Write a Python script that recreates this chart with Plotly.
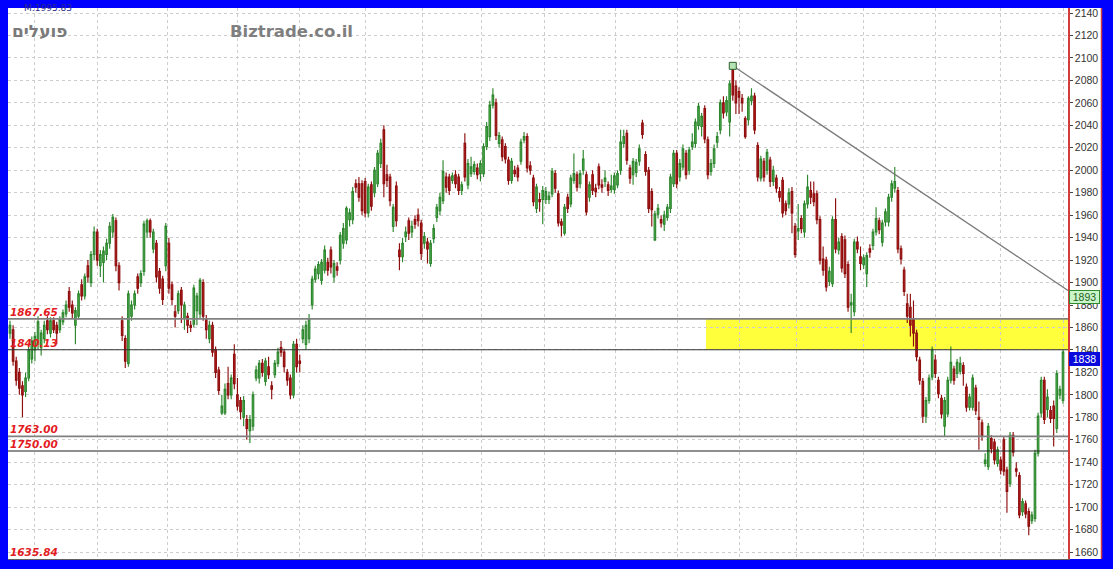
import plotly.graph_objects as go

# ---------------- data ----------------
opens = [
    1855,1858,1830,1820,1808,1803,1815,1832,1840,1845,
    1842,1850,1866,1855,1866,1862,1858,1865,1872,1892,
    1880,1862,1870,1898,1888,1915,1900,1925,1945,1915,
    1918,1925,1935,1945,1955,1915,1866,1850,1828,1870,
    1880,1905,1900,1910,1945,1955,1930,1935,1910,1903,
    1915,1935,1898,1874,1875,1893,1868,1870,1862,1863,
    1875,1872,1900,1868,1850,1862,1840,1822,1784,1784,
    1810,1800,1836,1800,1795,1780,1778,1768,1772,1815,
    1815,1828,1812,1825,1808,1818,1828,1842,1838,1820,
    1815,1800,1845,1830,1850,1845,1850,1880,
    1903,1908,1902,1911,1918,1929,1905,1914,1920,1935,
    1938,1956,1956,1988,1988,1988,1990,1962,1987,1980,
    1988,2006,2036,1996,1994,1950,1986,1929,1923,1941,
    1955,1945,1956,1960,1953,1935,1936,1917,1939,1958,
    1964,1973,1994,1994,1991,1996,1994,1982,2024,1987,
    1997,1999,2002,1997,1997,2021,2030,2058,2060,2024,
    2027,2021,2009,1991,2000,2002,2008,2027,2030,2004,
    1993,1966,1974,1974,1974,1974,1979,1997,1979,1954,
    1944,1976,1970,1991,1996,1988,2000,1996,1976,1996,
    1984,2003,1987,1990,1987,1983,1983,1987,2000,2024,
    2033,2002,1996,1998,2008,2042,2014,2000,1981,1938,
    1961,1956,1952,1958,1966,1988,2015,1994,2003,2015,
    2000,2021,2024,2040,2039,2055,2027,1999,2006,2025,
    2036,2060,2052,2043,2090,2075,2070,2064,2046,2045,
    2062,2066,2022,1993,2008,2000,2009,1990,1993,1981,
    1991,1970,1970,1981,1950,1946,1957,1945,1970,1982,
    1979,1979,1956,1921,1920,1901,1899,1956,1929,1941,
    1938,1916,1880,1874,1936,1923,1916,1908,1930,1933,
    1945,1955,1936,1954,1954,1976,1984,1982,1930,1911,
    1881,1878,1867,1855,1831,1812,1781,1795,1816,1831,
    1813,1797,1772,1783,1813,1823,1819,1821,1826,1807,
    1789,1789,1806,1780,1775,1739,1736,1761,1758,1739,
    1742,1760,1733,1721,1764,1734,1728,1696,1703,1696,
    1688,1690,1748,1784,1813,1787,1786,1790,1770,1800,1795,
]
highs = [
    1866,1862,1834,1824,1812,1820,1843,1852,1856,1870,
    1858,1866,1870,1869,1869,1865,1870,1876,1884,1896,
    1884,1878,1893,1903,1908,1920,1928,1950,1948,1929,
    1932,1939,1954,1961,1958,1918,1870,1853,1893,1884,
    1893,1908,1911,1955,1957,1957,1948,1938,1913,1906,
    1953,1940,1901,1880,1893,1896,1883,1873,1866,1898,
    1891,1904,1903,1871,1866,1865,1843,1825,1800,1810,
    1825,1818,1845,1815,1798,1799,1782,1782,1803,1826,
    1831,1832,1833,1834,1812,1831,1842,1848,1841,1823,
    1818,1848,1850,1836,1862,1866,1872,1906,
    1915,1919,1921,1933,1922,1932,1920,1918,1945,1953,
    1968,1966,1985,1992,1994,1991,1993,1988,1990,2003,
    2018,2028,2040,2005,1997,1970,1990,1935,1940,1950,
    1958,1955,1960,1966,1956,1945,1940,1938,1952,1970,
    1980,2009,1998,1997,1998,2000,1997,1990,2033,2010,
    2012,2008,2006,2009,2024,2043,2062,2073,2064,2034,
    2030,2024,2012,2011,2004,2005,2028,2034,2033,2008,
    1996,1988,1980,1986,1985,1981,2002,2000,1982,1957,
    1970,1979,1996,2015,1999,2000,2018,1999,1990,2000,
    1988,2006,1992,2000,1990,1996,1998,2000,2036,2036,
    2036,2005,2011,2010,2023,2045,2017,2003,1984,1964,
    1970,1960,1964,1970,1997,2018,2018,2010,2023,2018,
    2021,2033,2046,2060,2051,2058,2030,2010,2023,2034,
    2063,2066,2066,2080,2093,2080,2074,2068,2048,2066,
    2073,2069,2025,2013,2011,2019,2012,2004,1996,1985,
    1994,1973,1984,1985,1953,1970,1960,1973,1996,1990,
    1990,1982,1959,1932,1923,1914,1959,1975,1940,1944,
    1942,1919,1890,1939,1941,1932,1925,1927,1934,1948,
    1967,1958,1956,1966,1979,1991,2003,1985,1933,1914,
    1890,1890,1884,1858,1834,1815,1798,1818,1843,1836,
    1816,1800,1798,1816,1843,1826,1832,1834,1829,1810,
    1801,1818,1809,1794,1778,1748,1775,1764,1761,1754,
    1745,1763,1736,1767,1767,1740,1731,1708,1706,1699,
    1696,1751,1784,1816,1816,1805,1790,1795,1822,1808,1840,
]
lows = [
    1850,1826,1808,1800,1780,1798,1812,1828,1830,1840,
    1835,1846,1854,1851,1855,1845,1855,1862,1869,1874,
    1868,1845,1867,1884,1885,1900,1896,1920,1915,1905,
    1900,1920,1930,1940,1910,1893,1848,1824,1825,1866,
    1876,1890,1896,1906,1940,1940,1926,1900,1890,1880,
    1910,1890,1880,1860,1872,1864,1858,1855,1856,1860,
    1862,1868,1866,1850,1846,1834,1815,1800,1782,1782,
    1796,1796,1805,1786,1778,1772,1760,1757,1768,1812,
    1810,1816,1808,1814,1796,1815,1825,1834,1820,1808,
    1796,1797,1820,1820,1846,1840,1846,1876,
    1900,1903,1898,1908,1906,1908,1900,1906,1916,1930,
    1934,1950,1952,1980,1972,1960,1958,1958,1964,1976,
    1985,2002,1976,1985,1968,1945,1950,1911,1918,1936,
    1938,1940,1948,1950,1920,1930,1917,1914,1935,1954,
    1960,1970,1980,1978,1988,1984,1978,1978,1990,1983,
    1994,1996,1992,1990,1994,2018,2026,2055,2027,2020,
    2008,2006,1987,1988,1994,1990,2005,2024,1998,1996,
    1968,1962,1963,1952,1970,1970,1976,1980,1950,1941,
    1942,1962,1967,1988,1981,1984,1996,1960,1972,1978,
    1976,1983,1980,1985,1977,1980,1979,1984,1996,2020,
    2005,1988,1987,1994,2004,2028,1995,1962,1950,1937,
    1957,1949,1946,1955,1962,1985,1984,1990,2000,1992,
    1996,2018,2020,2036,2030,2024,1992,1995,2002,2020,
    2032,2046,2048,2030,2062,2050,2050,2052,2028,2040,
    2058,2032,1990,1990,1990,1996,1985,1986,1980,1972,
    1958,1960,1966,1944,1922,1938,1944,1940,1966,1970,
    1968,1952,1916,1906,1892,1897,1896,1926,1925,1909,
    1904,1874,1855,1870,1926,1911,1912,1896,1922,1929,
    1942,1943,1932,1950,1950,1972,1980,1926,1916,1888,
    1864,1852,1843,1830,1809,1775,1775,1792,1813,1815,
    1797,1779,1763,1780,1810,1809,1815,1818,1808,1785,
    1786,1786,1782,1751,1759,1736,1733,1748,1738,1736,
    1729,1728,1695,1718,1745,1727,1690,1692,1690,1675,
    1685,1687,1745,1780,1774,1780,1775,1754,1766,1796,1792,
]
closes = [
    1862,1830,1813,1806,1800,1815,1840,1848,1852,1865,
    1855,1862,1858,1866,1858,1855,1867,1873,1880,1878,
    1873,1875,1890,1888,1905,1905,1925,1945,1920,1925,
    1928,1935,1950,1958,1915,1900,1853,1830,1890,1880,
    1890,1895,1908,1952,1955,1945,1945,1905,1895,1885,
    1950,1895,1885,1870,1890,1880,1880,1862,1860,1895,
    1888,1902,1870,1858,1862,1838,1820,1804,1790,1805,
    1800,1815,1810,1790,1785,1795,1770,1778,1800,1822,
    1828,1820,1830,1818,1805,1828,1838,1838,1825,1813,
    1800,1845,1825,1828,1858,1862,1868,1903,
    1912,1916,1918,1929,1911,1914,1917,1911,1942,1948,
    1966,1962,1981,1985,1976,1964,1962,1985,1968,2000,
    2015,2024,1988,1991,1973,1967,1955,1923,1935,1945,
    1944,1950,1952,1955,1926,1941,1930,1935,1948,1967,
    1976,1999,1985,1982,1995,1988,1982,1987,1994,2006,
    2003,2005,1996,2006,2021,2039,2058,2067,2031,2031,
    2012,2010,1991,2008,1997,1994,2025,2030,2002,2000,
    1972,1985,1972,1982,1981,1977,1999,1984,1953,1951,
    1967,1966,1993,1997,1985,1997,2010,1963,1987,1982,
    1981,1987,1985,1993,1982,1986,1995,1997,2025,2030,
    2009,1993,2008,2007,2019,2032,1999,1966,1965,1961,
    1966,1953,1960,1967,1994,2015,1988,2006,2019,1996,
    2018,2025,2043,2057,2048,2028,1996,2006,2019,2030,
    2060,2051,2062,2077,2067,2060,2065,2060,2030,2064,
    2066,2036,1994,2010,1994,2016,1990,2000,1984,1976,
    1962,1964,1980,1962,1925,1948,1948,1970,1985,1976,
    1972,1956,1920,1911,1896,1910,1956,1930,1936,1913,
    1908,1878,1882,1936,1930,1917,1922,1924,1927,1945,
    1957,1947,1953,1963,1976,1988,1990,1930,1921,1892,
    1870,1862,1855,1834,1813,1781,1795,1815,1840,1819,
    1801,1783,1795,1813,1829,1813,1829,1828,1819,1789,
    1798,1815,1786,1778,1763,1742,1772,1752,1742,1751,
    1733,1732,1714,1764,1749,1732,1693,1705,1694,1683,
    1693,1748,1781,1813,1778,1798,1779,1779,1819,1805,1838,
]

level_values = [1867.65, 1840.13, 1763.00, 1750.00]
level_labels = ["1867.65", "1840.13", "1763.00", "1750.00"]
bottom_label = "1635.84"
trend_end_value = 1893
last_value = 1838
month_marks = [8, 28, 50.7, 73, 93, 114, 132.3, 151.5, 171.7, 194.5,
               214.4, 234.3, 252.6, 273.8, 297, 318, 338]
zone_start = 223.4
y_ticks = list(range(1660, 2141, 20))

n = len(closes)
if not (len(opens) == len(highs) == len(lows) == n):
    raise SystemExit(f"length mismatch {len(opens)} {len(highs)} {len(lows)} {n}")
idx = list(range(n))

x_lo = -0.64
x_hi = n - 1 + 1.6
y_lo, y_hi = 1653.8, 2144.5

peak_i = max(idx, key=lambda i: highs[i])
peak_v = highs[peak_i]

fig = go.Figure()

fig.add_trace(go.Candlestick(
    x=idx, open=opens, high=highs, low=lows, close=closes,
    increasing=dict(line=dict(color="#2d862d", width=1.15), fillcolor="#5cbd5c"),
    decreasing=dict(line=dict(color="#8e0e0e", width=1.15), fillcolor="#c02020"),
    whiskerwidth=0, hoverinfo="skip", showlegend=False,
))

# trend line from the peak to the right edge
fig.add_trace(go.Scatter(
    x=[peak_i, x_hi], y=[peak_v, trend_end_value], mode="lines",
    line=dict(color="#7a7a7a", width=1.3), hoverinfo="skip", showlegend=False,
))
fig.add_trace(go.Scatter(
    x=[peak_i], y=[peak_v], mode="markers",
    marker=dict(symbol="square", size=7, color="#b5e3b5",
                line=dict(color="#2b5f2b", width=1)),
    hoverinfo="skip", showlegend=False,
))

shapes = []
# yellow zone
shapes.append(dict(type="rect", xref="x", yref="y", x0=zone_start, x1=x_hi,
                   y0=level_values[1], y1=level_values[0],
                   fillcolor="#ffff3c", line=dict(width=0), layer="below"))
# level lines
level_styles = [("#808080", 1.6), ("#303030", 1.1), ("#808080", 1.6), ("#202020", 1.1)]
for v, (col, w) in zip(level_values, level_styles):
    shapes.append(dict(type="line", xref="paper", yref="y", x0=0, x1=1, y0=v, y1=v,
                       line=dict(color=col, width=w), layer="above"))
# white price-scale strip and its red border
shapes.append(dict(type="rect", xref="paper", yref="paper", x0=1, x1=1.0316,
                   y0=0, y1=1, fillcolor="white", line=dict(width=0), layer="below"))
shapes.append(dict(type="line", xref="paper", yref="paper", x0=1.0316, x1=1.0316,
                   y0=0, y1=1, line=dict(color="#d43c3c", width=1.5)))

annotations = []
label_font = dict(family="DejaVu Sans", size=10.5, color="#e31b23")
for v, t in zip(level_values, level_labels):
    annotations.append(dict(xref="paper", yref="y", x=0.001, y=v, xanchor="left",
                            yanchor="bottom", text=f"<b><i>{t}</i></b>", showarrow=False,
                            font=label_font, borderpad=0))
annotations.append(dict(xref="paper", yref="paper", x=0.001, y=0, xanchor="left",
                        yanchor="bottom", text=f"<b><i>{bottom_label}</i></b>",
                        showarrow=False, font=label_font, borderpad=0))
annotations.append(dict(xref="paper", yref="y", x=1.0008, y=trend_end_value,
                        xanchor="left", yanchor="top", text=str(trend_end_value),
                        showarrow=False, bgcolor="#c9f5c9", bordercolor="#2e8b2e",
                        borderwidth=1, borderpad=0, width=29,
                        font=dict(family="Liberation Sans", size=10.5, color="#1f5f1f")))
annotations.append(dict(xref="paper", yref="y", x=1.0008, y=last_value,
                        xanchor="left", yanchor="top", text=str(last_value),
                        showarrow=False, bgcolor="#0a0adc", bordercolor="#0a0adc",
                        borderwidth=1, borderpad=0, width=29,
                        font=dict(family="Liberation Sans", size=10.5, color="white")))
annotations.append(dict(xref="paper", yref="paper", x=0.0019, y=0.958, xanchor="left",
                        yanchor="middle", text="<b>פועלים</b>", showarrow=False,
                        font=dict(family="DejaVu Sans", size=17, color="#7a7a7a")))
annotations.append(dict(xref="paper", yref="paper", x=0.2075, y=0.958, xanchor="left",
                        yanchor="middle", text="<b>Biztrade.co.il</b>", showarrow=False,
                        font=dict(family="DejaVu Sans", size=16.5, color="#7f7f7f")))
annotations.append(dict(xref="paper", yref="paper", x=0.013, y=1.0, xanchor="left",
                        yanchor="middle", text="M:1995.83", showarrow=False,
                        font=dict(family="DejaVu Sans", size=9, color="#2a2a8a")))

fig.update_layout(
    width=1113, height=569,
    margin=dict(l=8, r=45, t=8, b=10, autoexpand=False),
    paper_bgcolor="#0000ff", plot_bgcolor="white",
    shapes=shapes, annotations=annotations,
    showlegend=False,
    xaxis=dict(range=[x_lo, x_hi], rangeslider=dict(visible=False),
               tickvals=month_marks, showticklabels=False, ticks="",
               showgrid=True, gridcolor="#cdcdcd", griddash="dot", gridwidth=1,
               zeroline=False, showline=True, linecolor="#606060", linewidth=1),
    yaxis=dict(range=[y_lo, y_hi], side="right", tickvals=y_ticks,
               showgrid=True, gridcolor="#cdcdcd", griddash="dot", gridwidth=1,
               zeroline=False, showline=True, linecolor="#d43c3c", linewidth=1.5,
               ticks="outside", ticklen=3, tickcolor="#444", tickwidth=1,
               tickfont=dict(family="Liberation Sans", size=10.5, color="#333")),
)

fig.write_html(
    "out.html",
    config={"displayModeBar": False},
    post_script="document.body.style.margin='0';document.body.style.padding='0';"
                "document.body.style.background='#0000ff';",
)
